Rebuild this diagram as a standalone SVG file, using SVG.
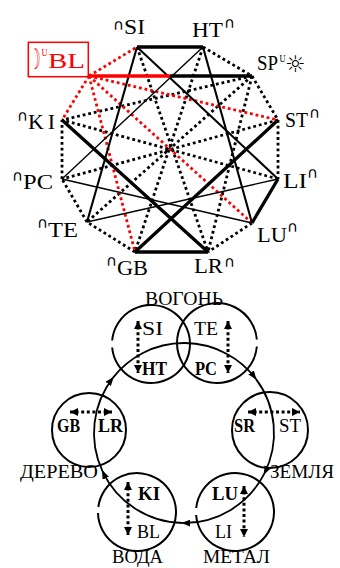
<svg xmlns="http://www.w3.org/2000/svg" width="340" height="568" viewBox="0 0 340 568">
<style>
.d{stroke:#000;stroke-width:2.8;stroke-dasharray:2.8 2.9;fill:none}
.r{stroke:#f00;stroke-width:2.8;stroke-dasharray:2.8 2.9;fill:none}
.k{stroke:#000;stroke-width:3.3;fill:none}
.m{stroke:#000;stroke-width:2.1;fill:none}
.t{stroke:#000;stroke-width:1.4;fill:none}
.c{stroke:#000;stroke-width:2;fill:none}
.da{stroke:#000;stroke-width:3;stroke-dasharray:3 2.6;fill:none;marker-start:url(#sa);marker-end:url(#sa)}
.big{stroke:#000;stroke-width:1.8;fill:none;marker-end:url(#ba)}
text{font-family:"Liberation Serif","Times New Roman",serif;fill:#000}
.L{font-size:22px}
.cap{font-family:"DejaVu Sans","Noto Sans",sans-serif;font-size:15px}
.sup{font-size:11px}
.sym{font-family:"DejaVu Sans","Noto Sans",sans-serif}
.red{fill:#f00}
.b{font-size:18px}
.bb{font-size:18px;font-weight:bold}
.e{font-size:18px}
</style>
<defs>
<marker id="sa" markerUnits="userSpaceOnUse" markerWidth="9" markerHeight="9" refX="8" refY="4" orient="auto-start-reverse"><path d="M0,0 L8,4 L0,8 z" fill="#000"/></marker>
<marker id="ba" markerUnits="userSpaceOnUse" markerWidth="10" markerHeight="8" refX="8" refY="3.5" orient="auto"><path d="M0,0 L9,3.5 L0,7 z" fill="#000"/></marker>
</defs>

<g id="connectors-top">
<line class="d" x1="203" y1="47" x2="252" y2="76"/>
<line class="d" x1="252" y1="76" x2="278" y2="120"/>
<line class="d" x1="278" y1="120" x2="278" y2="179"/>
<line class="d" x1="252" y1="223" x2="208" y2="252"/>
<line class="d" x1="135" y1="252" x2="87" y2="222"/>
<line class="d" x1="87" y1="222" x2="62" y2="179"/>
<line class="d" x1="62" y1="179" x2="62" y2="120"/>
<line class="d" x1="252" y1="76" x2="208" y2="252"/>
<line class="d" x1="252" y1="76" x2="62" y2="120"/>
<line class="d" x1="137" y1="47" x2="208" y2="252"/>
<line class="d" x1="203" y1="47" x2="135" y2="252"/>
<line class="d" x1="252" y1="76" x2="87" y2="222"/>
<line class="d" x1="278" y1="120" x2="62" y2="179"/>
<line class="d" x1="278" y1="179" x2="62" y2="120"/>
<line class="r" x1="89" y1="76" x2="137" y2="47"/>
<line class="r" x1="89" y1="76" x2="62" y2="120"/>
<line class="r" x1="89" y1="76" x2="278" y2="120"/>
<line class="r" x1="89" y1="76" x2="135" y2="252"/>
<line class="r" x1="89" y1="76" x2="252" y2="223"/>
<line class="t" x1="203" y1="47" x2="62" y2="179"/>
<line class="t" x1="62" y1="179" x2="252" y2="223"/>
<line class="t" x1="87" y1="222" x2="278" y2="179"/>
<line class="m" x1="137" y1="47" x2="278" y2="179"/>
<line class="m" x1="137" y1="47" x2="87" y2="222"/>
<line class="m" x1="203" y1="47" x2="252" y2="223"/>
<line class="k" x1="137" y1="47" x2="203" y2="47"/>
<line class="k" x1="278" y1="179" x2="252" y2="223"/>
<line class="k" x1="208" y1="252" x2="135" y2="252"/>
<line class="k" x1="62" y1="120" x2="208" y2="252"/>
<line class="k" x1="278" y1="120" x2="135" y2="252"/>
<line class="k" x1="89" y1="76" x2="170" y2="76" style="stroke:#f00"/>
<line class="k" x1="170" y1="76" x2="252" y2="76"/>
</g>

<g id="node-SI"><text class="cap" x="113" y="30">∩</text><text class="L" x="124" y="34" textLength="21" lengthAdjust="spacingAndGlyphs">SI</text></g>
<g id="node-HT"><text class="L" x="192" y="36.5" textLength="31" lengthAdjust="spacingAndGlyphs">HT</text><text class="cap" x="224" y="28">∩</text></g>
<g id="node-SP"><text class="L" x="257" y="69.5" textLength="21" lengthAdjust="spacingAndGlyphs">SP</text><text class="sup" x="279.5" y="62" textLength="6" lengthAdjust="spacingAndGlyphs">U</text><text class="sym" x="285" y="72" font-size="23" fill="#333">☼</text></g>
<g id="node-ST"><text class="L" x="285" y="127" textLength="23" lengthAdjust="spacingAndGlyphs">ST</text><text class="cap" x="309" y="118">∩</text></g>
<g id="node-LI"><text class="L" x="283" y="187.5" textLength="24" lengthAdjust="spacingAndGlyphs">LI</text><text class="cap" x="307" y="178">∩</text></g>
<g id="node-LU"><text class="L" x="257" y="242" textLength="30" lengthAdjust="spacingAndGlyphs">LU</text><text class="cap" x="287" y="232">∩</text></g>
<g id="node-LR"><text class="L" x="194" y="273" textLength="29" lengthAdjust="spacingAndGlyphs">LR</text><text class="cap" x="224" y="267">∩</text></g>
<g id="node-GB"><text class="cap" x="106" y="266">∩</text><text class="L" x="117" y="275" textLength="31" lengthAdjust="spacingAndGlyphs">GB</text></g>
<g id="node-TE"><text class="cap" x="37" y="228">∩</text><text class="L" x="48" y="237" textLength="30" lengthAdjust="spacingAndGlyphs">TE</text></g>
<g id="node-PC"><text class="cap" x="12" y="181">∩</text><text class="L" x="23" y="189" textLength="30" lengthAdjust="spacingAndGlyphs">PC</text></g>
<g id="node-KI"><text class="cap" x="17" y="121">∩</text><text class="L" x="28" y="129" textLength="27" lengthAdjust="spacing">KI</text></g>
<g id="node-BL"><rect x="28.3" y="42.3" width="60" height="34.4" fill="none" stroke="#f00" stroke-width="1.5"/><text class="sym red" x="30" y="69" font-size="28" textLength="10.5" lengthAdjust="spacingAndGlyphs">☽</text><text class="sup red" x="41.5" y="56" textLength="6" lengthAdjust="spacingAndGlyphs">U</text><text class="L red" x="48" y="68.3" textLength="37" lengthAdjust="spacingAndGlyphs">BL</text></g>

<g id="connectors-bottom">
<path class="big" d="M102.43,471.03 A90,90 0 0 1 113.08,377.59"/>
<path class="big" d="M113.08,377.59 A90,90 0 0 1 255.87,378.84"/>
<path class="big" d="M255.87,378.84 A90,90 0 0 1 264.19,473.86"/>
<path class="big" d="M264.19,473.86 A90,90 0 0 1 182.43,522.99"/>
<path class="big" d="M182.43,522.99 A90,90 0 0 1 102.43,471.03"/>
</g>

<g id="node-fire-left">
<path class="c" d="M112.16,340.5 A39,39 0 1 1 112.16,347.5"/>
<line class="da" x1="138" y1="321" x2="138" y2="373"/>
<text class="b" x="142" y="335" textLength="21" lengthAdjust="spacingAndGlyphs">SI</text>
<text class="bb" x="142" y="375" textLength="25" lengthAdjust="spacingAndGlyphs">HT</text>
</g>
<g id="node-fire-right">
<path class="c" d="M256.85,346.5 A40,40 0 1 1 256.85,339.5"/>
<line class="da" x1="228" y1="321" x2="228" y2="373"/>
<text class="b" x="194" y="335" textLength="24" lengthAdjust="spacingAndGlyphs">TE</text>
<text class="bb" x="195" y="375" textLength="22" lengthAdjust="spacingAndGlyphs">PC</text>
</g>
<g id="node-fire-label"><text class="b" x="145" y="305" textLength="78" lengthAdjust="spacingAndGlyphs">ВОГОНЬ</text></g>
<g id="node-wood">
<circle class="c" cx="89" cy="430" r="37"/>
<line class="da" x1="70" y1="412" x2="112" y2="412"/>
<text class="bb" x="57" y="432" textLength="23" lengthAdjust="spacingAndGlyphs">GB</text>
<text class="bb" x="98" y="432" textLength="25" lengthAdjust="spacingAndGlyphs">LR</text>
<text class="e" x="20" y="478" textLength="78" lengthAdjust="spacingAndGlyphs">ДЕРЕВО</text>
</g>
<g id="node-earth">
<circle class="c" cx="270" cy="430" r="38"/>
<line class="da" x1="248" y1="412" x2="300" y2="412"/>
<text class="bb" x="234" y="432" textLength="21" lengthAdjust="spacingAndGlyphs">SR</text>
<text class="b" x="279" y="432" textLength="22" lengthAdjust="spacingAndGlyphs">ST</text>
<text class="e" x="270" y="478" textLength="64" lengthAdjust="spacingAndGlyphs">ЗЕМЛЯ</text>
</g>
<g id="node-water">
<path class="c" d="M98.32,507 A39,39 0 1 1 98,513"/>
<line class="da" x1="128" y1="482" x2="128" y2="535"/>
<text class="bb" x="138" y="500" textLength="22" lengthAdjust="spacingAndGlyphs">KI</text>
<text class="b" x="137" y="538" textLength="23" lengthAdjust="spacingAndGlyphs">BL</text>
<text class="e" x="112" y="563" textLength="51" lengthAdjust="spacingAndGlyphs">ВОДА</text>
</g>
<g id="node-metal">
<path class="c" d="M196.21,508 A39,39 0 1 1 196.12,515"/>
<line class="da" x1="244" y1="486" x2="244" y2="537"/>
<text class="bb" x="212" y="500" textLength="26" lengthAdjust="spacingAndGlyphs">LU</text>
<text class="b" x="215" y="538" textLength="17" lengthAdjust="spacingAndGlyphs">LI</text>
<text class="e" x="203" y="563" textLength="67" lengthAdjust="spacingAndGlyphs">МЕТАЛ</text>
</g>
</svg>
